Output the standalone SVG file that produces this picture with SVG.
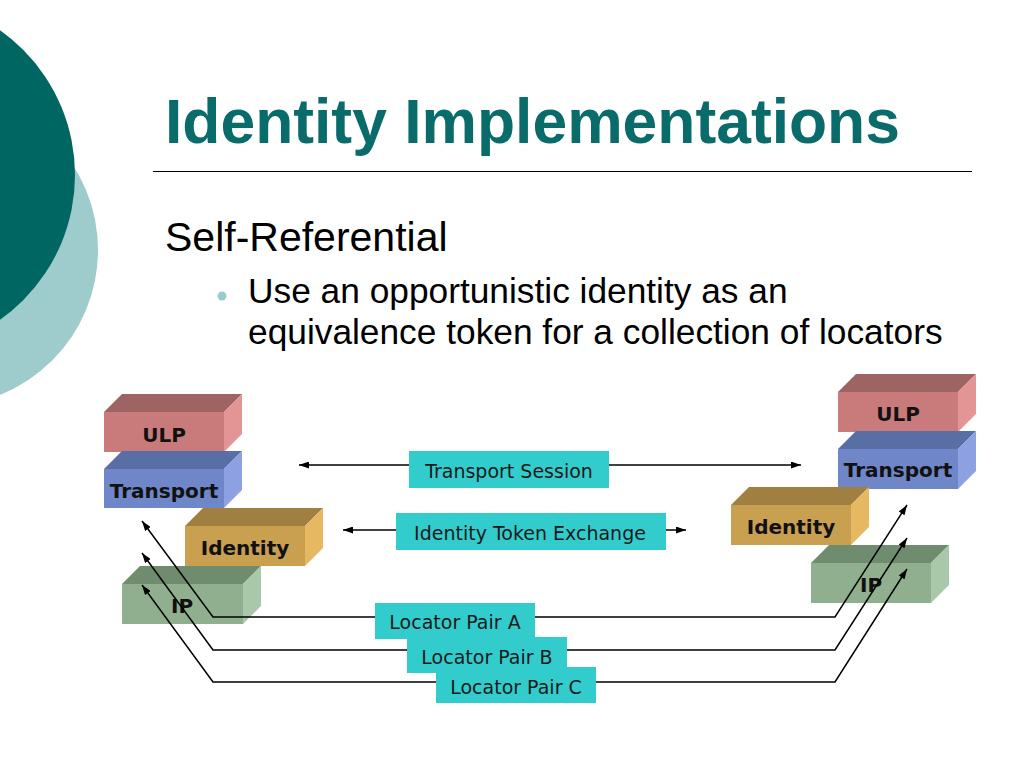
<svg xmlns="http://www.w3.org/2000/svg" width="1024" height="768" viewBox="0 0 1024 768">
<style>
.title{font-family:"Liberation Sans",Arial,sans-serif;font-weight:bold;font-size:62.4px;fill:#0A6B6B}
.h1{font-family:"Liberation Sans",Arial,sans-serif;font-size:41px;fill:#000}
.b1{font-family:"Liberation Sans",Arial,sans-serif;font-size:35.3px;fill:#000}
.bl{font-family:"DejaVu Sans",Verdana,sans-serif;font-weight:bold;font-size:20px;fill:#111;text-anchor:middle}
.lab{font-family:"DejaVu Sans",Verdana,sans-serif;font-size:19px;fill:#1a1a1a;text-anchor:middle}
.lbox{fill:#33CCCC}
.ln{fill:none;stroke:#000;stroke-width:1.5;marker-start:url(#ah);marker-end:url(#ah)}
.ulp .f{fill:#C97B7B}.ulp .t{fill:#9E6464}.ulp .s{fill:#E39494}
.tr .f{fill:#6F86C8}.tr .t{fill:#5A6EA6}.tr .s{fill:#8CA0E2}
.id .f{fill:#C9A050}.id .t{fill:#A08040}.id .s{fill:#E6B862}
.ip .f{fill:#8FAF8F}.ip .t{fill:#6F8C6F}.ip .s{fill:#A9C8A9}
</style>
<defs>
<marker id="ah" viewBox="0 0 10 7" refX="10" refY="3.5" markerWidth="10" markerHeight="7" markerUnits="userSpaceOnUse" orient="auto-start-reverse">
<path d="M0,0 L10,3.5 L0,7 z" fill="#000"/>
</marker>
</defs>
<rect width="1024" height="768" fill="#fff"/>
<g id="decor">
<circle cx="-58" cy="250" r="156" fill="#9ECBCB"/>
<circle cx="-102" cy="175" r="177" fill="#006661"/>
</g>
<text class="title" x="165" y="143">Identity Implementations</text>
<line x1="153" y1="171.5" x2="972" y2="171.5" stroke="#000" stroke-width="1"/>
<text class="h1" x="165" y="251">Self-Referential</text>
<circle cx="222" cy="296" r="4.5" fill="#99CCCC"/>
<text class="b1" x="248" y="303">Use an opportunistic identity as an</text>
<text class="b1" x="248" y="344">equivalence token for a collection of locators</text>

<g id="left-ulp" class="ulp">
<polygon class="t" points="104,412 122,394 242,394 224,412"/>
<polygon class="s" points="224,412 242,394 242,434 224,452"/>
<rect class="f" x="104" y="412" width="120" height="40"/>
<text class="bl" x="164" y="442">ULP</text>
</g>
<g id="left-transport" class="tr">
<polygon class="t" points="104,469 122,451 242,451 224,469"/>
<polygon class="s" points="224,469 242,451 242,490 224,508"/>
<rect class="f" x="104" y="469" width="120" height="39"/>
<text class="bl" x="164" y="498">Transport</text>
</g>
<g id="left-identity" class="id">
<polygon class="t" points="185,526 203,508 323,508 305,526"/>
<polygon class="s" points="305,526 323,508 323,548 305,566"/>
<rect class="f" x="185" y="526" width="120" height="40"/>
<text class="bl" x="245" y="555">Identity</text>
</g>
<g id="left-ip" class="ip">
<polygon class="t" points="122,584 140,566 261,566 243,584"/>
<polygon class="s" points="243,584 261,566 261,606 243,624"/>
<rect class="f" x="122" y="584" width="121" height="40"/>
<text class="bl" x="182" y="613">IP</text>
</g>

<g id="right-ulp" class="ulp">
<polygon class="t" points="838,392 856,374 976,374 958,392"/>
<polygon class="s" points="958,392 976,374 976,414 958,432"/>
<rect class="f" x="838" y="392" width="120" height="40"/>
<text class="bl" x="898" y="421">ULP</text>
</g>
<g id="right-transport" class="tr">
<polygon class="t" points="838,449 856,431 976,431 958,449"/>
<polygon class="s" points="958,449 976,431 976,471 958,489"/>
<rect class="f" x="838" y="449" width="120" height="40"/>
<text class="bl" x="898" y="477">Transport</text>
</g>
<g id="right-identity" class="id">
<polygon class="t" points="731,505 749,487 869,487 851,505"/>
<polygon class="s" points="851,505 869,487 869,527 851,545"/>
<rect class="f" x="731" y="505" width="120" height="40"/>
<text class="bl" x="791" y="534">Identity</text>
</g>
<g id="right-ip" class="ip">
<polygon class="t" points="811,563 829,545 949,545 931,563"/>
<polygon class="s" points="931,563 949,545 949,585 931,603"/>
<rect class="f" x="811" y="563" width="120" height="40"/>
<text class="bl" x="871" y="592">IP</text>
</g>

<g id="connectors">
<line class="ln" x1="299" y1="465" x2="801" y2="465"/>
<line class="ln" x1="343" y1="530" x2="686" y2="530"/>
<polyline class="ln" points="142,521 213,617 835,617 907,505"/>
<polyline class="ln" points="142,553 213,650 835,650 907,538"/>
<polyline class="ln" points="142,585 213,682 835,682 907,569"/>
</g>

<g id="connector-labels">
<rect class="lbox" x="409" y="451" width="200" height="37"/>
<text class="lab" x="509" y="478">Transport Session</text>
<rect class="lbox" x="396" y="513" width="270" height="37"/>
<text class="lab" x="530" y="540">Identity Token Exchange</text>
<rect class="lbox" x="375" y="603" width="160" height="36"/>
<text class="lab" x="455" y="629">Locator Pair A</text>
<rect class="lbox" x="407" y="637" width="160" height="36"/>
<text class="lab" x="487" y="664">Locator Pair B</text>
<rect class="lbox" x="436" y="667" width="160" height="36"/>
<text class="lab" x="516" y="694">Locator Pair C</text>
</g>
</svg>
